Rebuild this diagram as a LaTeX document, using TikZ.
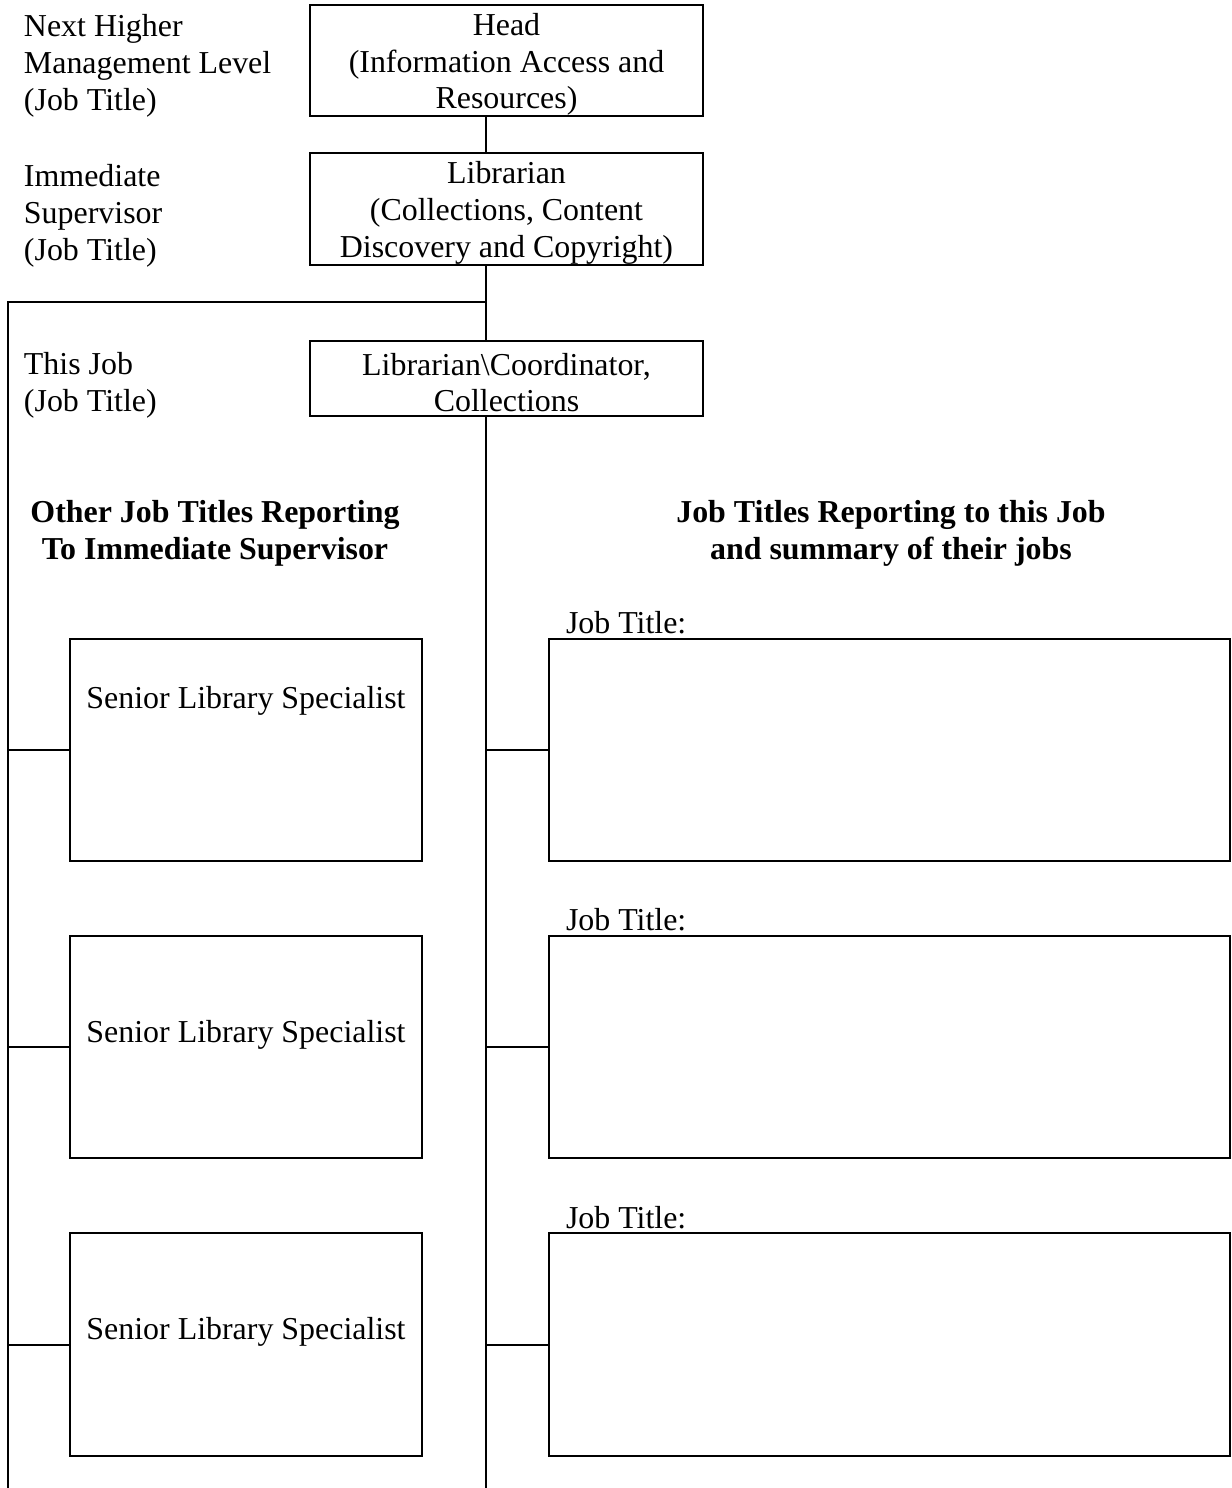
\documentclass[tikz,border=0pt]{standalone}
\usepackage{fontspec}
\setmainfont{Liberation Serif}
\usetikzlibrary{calc}

\begin{document}
\begin{tikzpicture}[x=0.376pt, y=-0.376pt, line width=0.75pt,
	font=\fontsize{12}{13.8}\selectfont,
	box/.style={draw, inner sep=0pt, minimum width=147.8pt},
	boxtext/.style={align=center, inner sep=0pt},
	sidebox/.style={draw, inner sep=0pt, minimum width=132.4pt, minimum height=83.5pt},
	titlebox/.style={draw, inner sep=0pt, minimum width=256.1pt, minimum height=83.5pt},
	lbl/.style={align=left, inner sep=0pt, anchor=west},
	hdr/.style={align=center, inner sep=0pt, font=\fontsize{12}{13.8}\selectfont\bfseries}]

	\useasboundingbox (0,0) rectangle (1232,1488);

	% points
	\coordinate (spine) at (486,302);
	\coordinate (leftbar) at (8,302);
	\coordinate (leftend) at (8,1488);
	\coordinate (spineend) at (486,1488);

	% chain of command
	\node[box, minimum height=41.7pt] (head) at (506.5,60.5) {};
	\node[box, minimum height=42.1pt] (lib) at (506.5,209) {};
	\node[box, minimum height=28.2pt] (job) at (506.5,378.5) {};

	\node[boxtext] (headtext) at ($(head)+(0,4)$)
		{Head\\(Information Access and\\Resources)};
	\node[boxtext] (libtext) at ($(lib)+(0,4)$)
		{Librarian\\(Collections, Content\\Discovery and Copyright)};
	\node[boxtext] (jobtext) at ($(job)+(0,4)$)
		{Librarian\textbackslash Coordinator,\\Collections};

	% level labels
	\node[lbl] (lvlhead) at (23,66) {Next Higher\\Management Level\\(Job Title)};
	\node[lbl] (lvllib) at (23,216) {Immediate\\Supervisor\\(Job Title)};
	\node[lbl] (lvljob) at (23,385.5) {This Job\\(Job Title)};

	% column headings
	\node[hdr] (hdrleft) at (215,533.5) {Other Job Titles Reporting\\To Immediate Supervisor};
	\node[hdr] (hdrright) at (891,533.5) {Job Titles Reporting to this Job\\and summary of their jobs};

	% vertical links
	\draw (head.south -| spine) -- (lib.north -| spine);
	\draw (lib.south -| spine) -- (job.north -| spine);
	\draw (spine) -- (leftbar) -- (leftend);
	\draw (job.south -| spine) -- (spineend);

	% reporting boxes
	\foreach \i/\y/\t in {1/750/701, 2/1047/1035, 3/1344.5/1332} {
		\node[sidebox] (sls\i) at (246,\y) {};
		\node[inner sep=0pt] (slstext\i) at (246,\t) {Senior Library Specialist};
		\draw (sls\i.west -| leftbar) -- (sls\i.west);

		\node[titlebox] (jt\i) at (889.5,\y) {};
		\node[lbl] (jtlabel\i) at (565,{\y-127}) {Job Title:};
		\draw (jt\i.west -| spine) -- (jt\i.west);
	}

\end{tikzpicture}
\end{document}
